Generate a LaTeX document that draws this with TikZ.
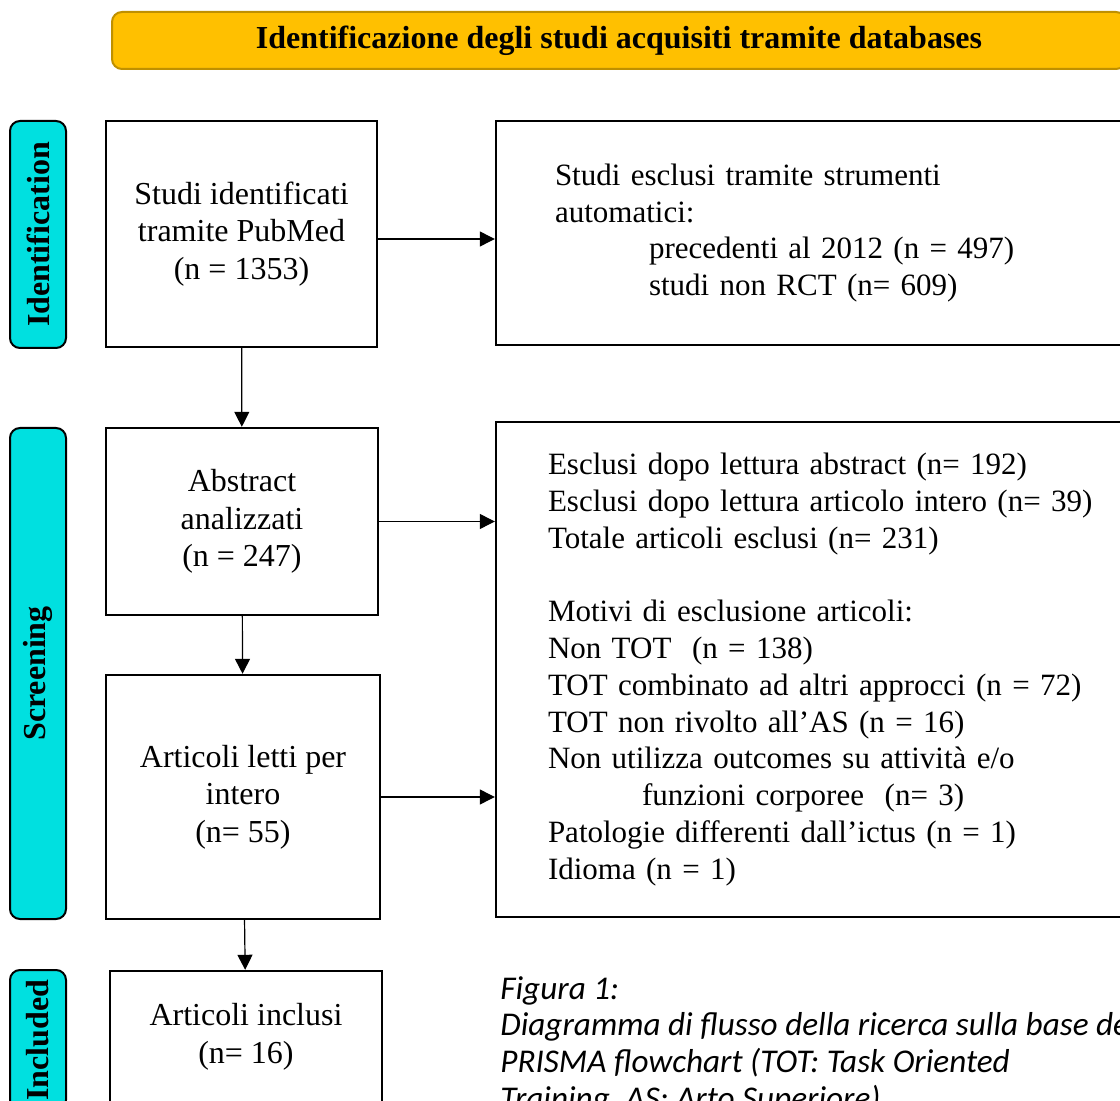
\documentclass[tikz,border=0pt]{standalone}
\usepackage{fontspec}
\setmainfont{Liberation Serif}
\newfontfamily\didafont{Carlito}
\usetikzlibrary{arrows.meta,calc,positioning}
\definecolor{oroscuro}{RGB}{191,144,0}
\definecolor{giallooro}{RGB}{255,192,0}
\definecolor{turchese}{RGB}{0,224,224}
\tikzset{
  titolo/.style={
    rounded corners=5pt,
    draw=oroscuro,
    line width=1pt,
    fill=giallooro,
    minimum width=507pt,
    minimum height=28.5pt,
    font=\fontsize{16}{19}\selectfont\bfseries
  },
  fase/.style={
    rounded corners=5pt,
    draw=black,
    line width=1pt,
    fill=turchese,
    rotate=90,
    minimum height=28pt,
    inner sep=0pt,
    font=\fontsize{16}{19}\selectfont\bfseries
  },
  blocco/.style={
    draw=black,
    line width=1.2pt,
    align=center,
    inner sep=0pt,
    font=\fontsize{16}{18.8}\selectfont
  },
  esclusi/.style={
    draw=black,
    line width=1.2pt,
    align=left,
    text width=285pt,
    inner xsep=26pt,
    font=\fontsize{15.5}{18.4}\selectfont
  },
  freccia/.style={
    -{Triangle[length=7.5pt,width=7.5pt]},
    line width=0.6pt
  },
  didascalia/.style={
    align=left,
    inner sep=0pt,
    font=\didafont\itshape\fontsize{16.6}{18.3}\selectfont
  }
}

\begin{document}
\begin{tikzpicture}[x=0.5pt,y=-0.5pt]
\useasboundingbox (0,0) rectangle (1120,1101);
\clip (0,0) rectangle (1120,1101);
\fill[white] (0,0) rectangle (1120,1101);
\node[titolo] (titolo) at (619,40.5) {Identificazione degli studi acquisiti tramite databases};
\node[fase, minimum width=113.5pt] (fident) at (38,234.5) {Identification};
\node[fase, minimum width=245.5pt] (fscreen) at (38,673.5) {Screening};
\node[fase, minimum width=70pt] (fincl) at (38,1040) {Included};
\node[blocco, minimum width=135.5pt, minimum height=113pt] (pubmed) at (241.5,234) {Studi identificati\\tramite PubMed\\(n = 1353)};
\node[esclusi, text width=278pt, inner xsep=29.5pt, minimum height=112pt] (auto) at (833,233) {Studi esclusi tramite strumenti\\automatici:\\\hspace*{47pt}precedenti al 2012 (n = 497)\\\hspace*{47pt}studi non RCT (n= 609)};
\node[blocco, minimum width=136pt, minimum height=93.5pt] (abstract) at (242,521.5) {Abstract\\analizzati\\(n = 247)};
\node[esclusi, minimum height=247.5pt] (motivi) at (833,669.5) {Esclusi dopo lettura abstract (n= 192)\\Esclusi dopo lettura articolo intero (n= 39)\\Totale articoli esclusi (n= 231)\\[18.4pt]Motivi di esclusione articoli:\\Non TOT~~(n = 138)\\TOT combinato ad altri approcci (n = 72)\\TOT non rivolto all’AS (n = 16)\\Non utilizza outcomes su attività e/o\\\hspace*{47pt}funzioni corporee~~(n= 3)\\Patologie differenti dall’ictus (n = 1)\\Idioma (n = 1)};
\node[blocco, minimum width=137pt, minimum height=122pt] (letti) at (243,797) {Articoli letti per\\intero\\(n= 55)};
\node[blocco, minimum width=136pt, minimum height=66pt] (inclusi) at (246,1037) {Articoli inclusi\\(n= 16)};
\node[didascalia, anchor=north west] (didascalia) at (500,976) {Figura 1:\\Diagramma di flusso della ricerca sulla base del\\PRISMA flowchart (TOT: Task Oriented\\Training, AS: Arto Superiore)};
\draw[freccia] ([yshift=-2.5pt]pubmed.east) -- ([yshift=-2.5pt]pubmed.east -| auto.west);
\draw[freccia] (pubmed) -- (abstract);
\draw[freccia] (abstract.east) -- (abstract.east -| motivi.west);
\draw[freccia] (abstract) -- (letti);
\draw[freccia] (letti.east) -- (letti.east -| motivi.west);
\draw[freccia] (letti) -- (inclusi);
\end{tikzpicture}
\end{document}
